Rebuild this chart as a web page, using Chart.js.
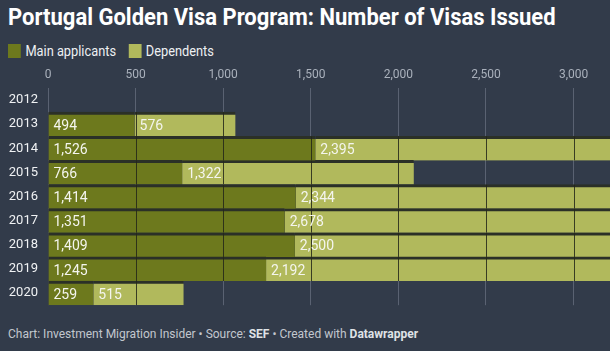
<!doctype html>
<html lang="en">
<head>
  <meta charset="utf-8">
  <title>Portugal Golden Visa Program</title>
  <script src="https://cdn.jsdelivr.net/npm/chart.js@4"></script>
  <style>
    body { margin: 0; background: #323b4a; width: 610px; height: 351px; overflow: hidden; font-family: Roboto, sans-serif; position: relative; }
    #title { position: absolute; left: 8px; top: 4px; font-size: 23px; font-weight: bold; color: #fff; white-space: nowrap; transform-origin: left top; }
    .legend { position: absolute; top: 43px; left: 8px; font-size: 14px; color: #eef0f2; white-space: nowrap; transform-origin: left top; }
    .legend span.box { display: inline-block; width: 14px; height: 14px; vertical-align: -2px; margin-right: 5px; }
    .legend span.item { margin-right: 10px; }
    #footer { position: absolute; left: 8px; top: 327px; font-size: 12px; color: #c2c7ce; white-space: nowrap; transform-origin: left top; }
    #footer b { color: #dfe2e6; }
    .grafico { position: absolute; left: 0; top: 63px; width: 610px; height: 260px; }
  </style>
</head>
<body>
<div id="title">Portugal Golden Visa Program: Number of Visas Issued</div>
<div class="legend" id="legend">
  <span class="item"><span class="box" style="background:#6d791d"></span>Main applicants</span>
  <span class="item"><span class="box" style="background:#b1b95c"></span>Dependents</span>
</div>
<div class="grafico">
  <canvas id="myChart"></canvas>
</div>
<div id="footer">Chart: Investment Migration Insider • Source: <b>SEF</b> • Created with <b>Datawrapper</b></div>

<script>
var years = ['2012', '2013', '2014', '2015', '2016', '2017', '2018', '2019', '2020'];
var mainApplicants = [0, 494, 1526, 766, 1414, 1351, 1409, 1245, 259];
var dependents = [0, 576, 2395, 1322, 2344, 2678, 2500, 2192, 515];
var xTicks = [0, 500, 1000, 1500, 2000, 2500, 3000];

// squeeze the condensed-looking header/footer text to the reference widths
function fitWidth(id, w) {
  var el = document.getElementById(id);
  el.style.transform = 'scaleX(' + (w / el.scrollWidth) + ')';
}
fitWidth('title', 548);
fitWidth('legend', 215);
fitWidth('footer', 410);

var fmt = function(v) { return v.toLocaleString('en-US'); };

// dark grid lines over the bars only
var gridOverBars = {
  id: 'gridOverBars',
  afterDatasetsDraw: function(chart) {
    var ctx = chart.ctx, xs = chart.scales.x;
    chart.data.datasets.forEach(function(ds, i) {
      chart.getDatasetMeta(i).data.forEach(function(bar) {
        var p = bar.getProps(['x', 'y', 'base', 'height'], true);
        if (p.x === p.base) return;
        ctx.save();
        ctx.beginPath();
        ctx.rect(Math.min(p.base, p.x), p.y - p.height / 2, Math.abs(p.x - p.base), p.height);
        ctx.clip();
        ctx.strokeStyle = 'rgba(35,38,25,0.85)';
        ctx.lineWidth = 1;
        xTicks.forEach(function(t) {
          var px = Math.round(xs.getPixelForValue(t)) + 0.5;
          ctx.beginPath();
          ctx.moveTo(px, p.y - p.height / 2);
          ctx.lineTo(px, p.y + p.height / 2);
          ctx.stroke();
        });
        ctx.restore();
      });
    });
  }
};

// value labels at the start of each segment
var valueLabels = {
  id: 'valueLabels',
  afterDatasetsDraw: function(chart) {
    var ctx = chart.ctx;
    ctx.save();
    ctx.font = '14px Roboto';
    ctx.fillStyle = '#f4f5ee';
    ctx.textBaseline = 'middle';
    ctx.textAlign = 'left';
    chart.data.datasets.forEach(function(ds, i) {
      chart.getDatasetMeta(i).data.forEach(function(bar, j) {
        var v = ds.data[j];
        if (!v) return;
        var p = bar.getProps(['y', 'base'], true);
        ctx.fillText(fmt(v), p.base + 5, p.y + 2);
      });
    });
    ctx.restore();
  }
};

var ctx = document.getElementById('myChart').getContext('2d');
var myChart = new Chart(ctx, {
  type: 'bar',
  data: {
    labels: years,
    datasets: [{
      label: 'Main applicants',
      data: mainApplicants,
      backgroundColor: '#6d791d',
      borderColor: '#2b3027',
      borderWidth: {top: 3, right: 0, bottom: 0, left: 0},
      borderSkipped: false
    }, {
      label: 'Dependents',
      data: dependents,
      backgroundColor: '#b1b95c',
      borderColor: '#2b3027',
      borderWidth: {top: 3, right: 0, bottom: 0, left: 0},
      borderSkipped: false
    }]
  },
  options: {
    indexAxis: 'y',
    responsive: true,
    maintainAspectRatio: false,
    animation: false,
    barPercentage: 1,
    categoryPercentage: 1,
    layout: {padding: 0},
    plugins: {legend: {display: false}, title: {display: false}, tooltip: {enabled: false}},
    scales: {
      x: {
        stacked: true,
        position: 'top',
        min: 0,
        max: 3208,
        afterBuildTicks: function(s) { s.ticks = xTicks.map(function(v) { return {value: v}; }); },
        afterFit: function(s) { s.height = 25; },
        ticks: {
          color: '#aab1bc',
          font: {family: 'Roboto', size: 12},
          padding: 6,
          maxRotation: 0,
          callback: function(v) { return fmt(v); }
        },
        grid: {color: '#5a6272', drawTicks: false},
        border: {display: false}
      },
      y: {
        stacked: true,
        afterFit: function(s) { s.width = 48; },
        ticks: {color: '#f0f2f4', font: {family: 'Roboto', size: 13}, padding: 10},
        grid: {display: false, drawTicks: false},
        border: {display: false}
      }
    }
  },
  plugins: [gridOverBars, valueLabels]
});
</script>
</body>
</html>
